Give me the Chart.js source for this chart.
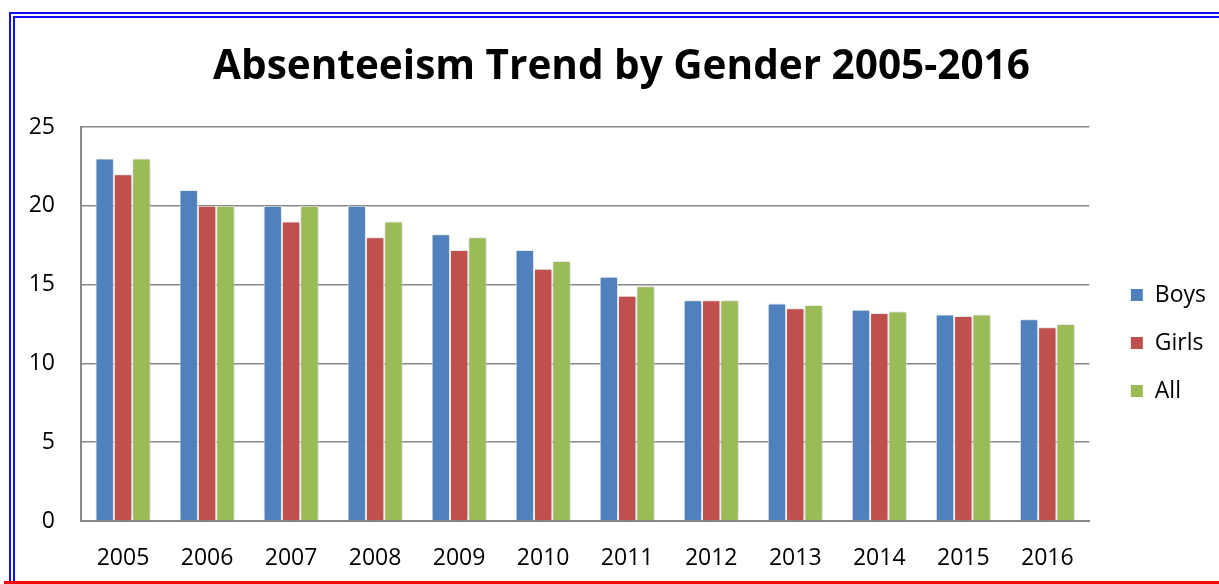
<!DOCTYPE html>
<html>
<head>
<meta charset="utf-8">
<script src="https://cdn.jsdelivr.net/npm/chart.js@4.4.1/dist/chart.umd.min.js"></script>
<style>
  html, body { margin: 0; padding: 0; background: #fff; }
  #wrap { position: relative; width: 1219px; height: 584px; overflow: hidden; }
  #c { position: absolute; left: 0; top: 0; }
  #blue { position: absolute; left: 9px; top: 12px; width: 1400px; height: 700px;
          border-left: 6px double #1010ff; border-top: 6px double #1010ff; pointer-events: none; }
  #red { position: absolute; left: 4px; top: 581px; width: 1300px; height: 3px; background: #ff0000; pointer-events: none; }
</style>
</head>
<body>
<div id="wrap">
  <canvas id="c" width="1219" height="584"></canvas>
  <div id="blue"></div>
  <div id="red"></div>
</div>
<script>
const titleText = 'Absenteeism Trend by Gender 2005-2016';
const years = ['2005','2006','2007','2008','2009','2010','2011','2012','2013','2014','2015','2016'];
const boys  = [23, 21, 20, 20, 18.2, 17.2, 15.5, 14, 13.8, 13.4, 13.1, 12.8];
const girls = [22, 20, 19, 18, 17.2, 16.0, 14.3, 14, 13.5, 13.2, 13.0, 12.3];
const all   = [23, 20, 20, 19, 18.0, 16.5, 14.9, 14, 13.7, 13.3, 13.1, 12.5];
const yMin = 0, yMax = 25, yStep = 5;

const FONT = "'Open Sans', 'DejaVu Sans', sans-serif";

const shadowPlugin = {
  id: 'barShadow',
  beforeDatasetsDraw(chart) {
    const ctx = chart.ctx;
    ctx.save();
    ctx.shadowColor = 'rgba(0,0,0,0.22)';
    ctx.shadowBlur = 4;
    ctx.shadowOffsetX = 1;
    ctx.shadowOffsetY = 0;
  },
  afterDatasetsDraw(chart) {
    chart.ctx.restore();
  }
};

const ds = (label, data, color) => ({
  label, data,
  backgroundColor: color,
  borderColor: '#ffffff',
  borderWidth: 1,
  categoryPercentage: 0.655,
  barPercentage: 1.0
});

new Chart(document.getElementById('c'), {
  type: 'bar',
  data: {
    labels: years,
    datasets: [
      ds('Boys', boys, '#4F81BD'),
      ds('Girls', girls, '#C0504D'),
      ds('All', all, '#9BBB59')
    ]
  },
  options: {
    responsive: false,
    animation: false,
    layout: { padding: { left: 27, right: 3, top: 0, bottom: 0 } },
    plugins: {
      tooltip: { enabled: false },
      title: {
        display: true,
        text: titleText,
        color: '#000',
        font: { family: FONT, size: 40.5, weight: 'bold', lineHeight: 1.2 },
        padding: { top: 43, bottom: 35.4 }
      },
      legend: {
        position: 'right',
        fullSize: false,
        title: { display: true, text: '', font: { size: 10, lineHeight: 1 }, padding: { top: 28, bottom: 0 } },
        labels: {
          color: '#000',
          font: { family: FONT, size: 23 },
          boxWidth: 13,
          boxHeight: 13,
          padding: 25
        }
      }
    },
    scales: {
      x: {
        grid: { display: false, drawTicks: false },
        border: { display: true, color: '#888888', width: 2 },
        ticks: { color: '#000', font: { family: FONT, size: 23 }, padding: 24, maxRotation: 0 },
        afterFit(s) { s.height = 63; }
      },
      y: {
        min: yMin, max: yMax,
        grid: { color: '#888888', lineWidth: 1.5, drawTicks: false },
        border: { display: true, color: '#888888', width: 2 },
        ticks: { stepSize: yStep, color: '#000', font: { family: FONT, size: 23 }, padding: 26 },
        afterFit(s) { s.width = 54; }
      },
      y2: {
        position: 'right',
        min: yMin, max: yMax,
        grid: { display: false, drawTicks: false },
        border: { display: false },
        ticks: { display: false },
        afterFit(s) { s.width = 16; }
      }
    }
  },
  plugins: [shadowPlugin]
});
</script>
</body>
</html>
